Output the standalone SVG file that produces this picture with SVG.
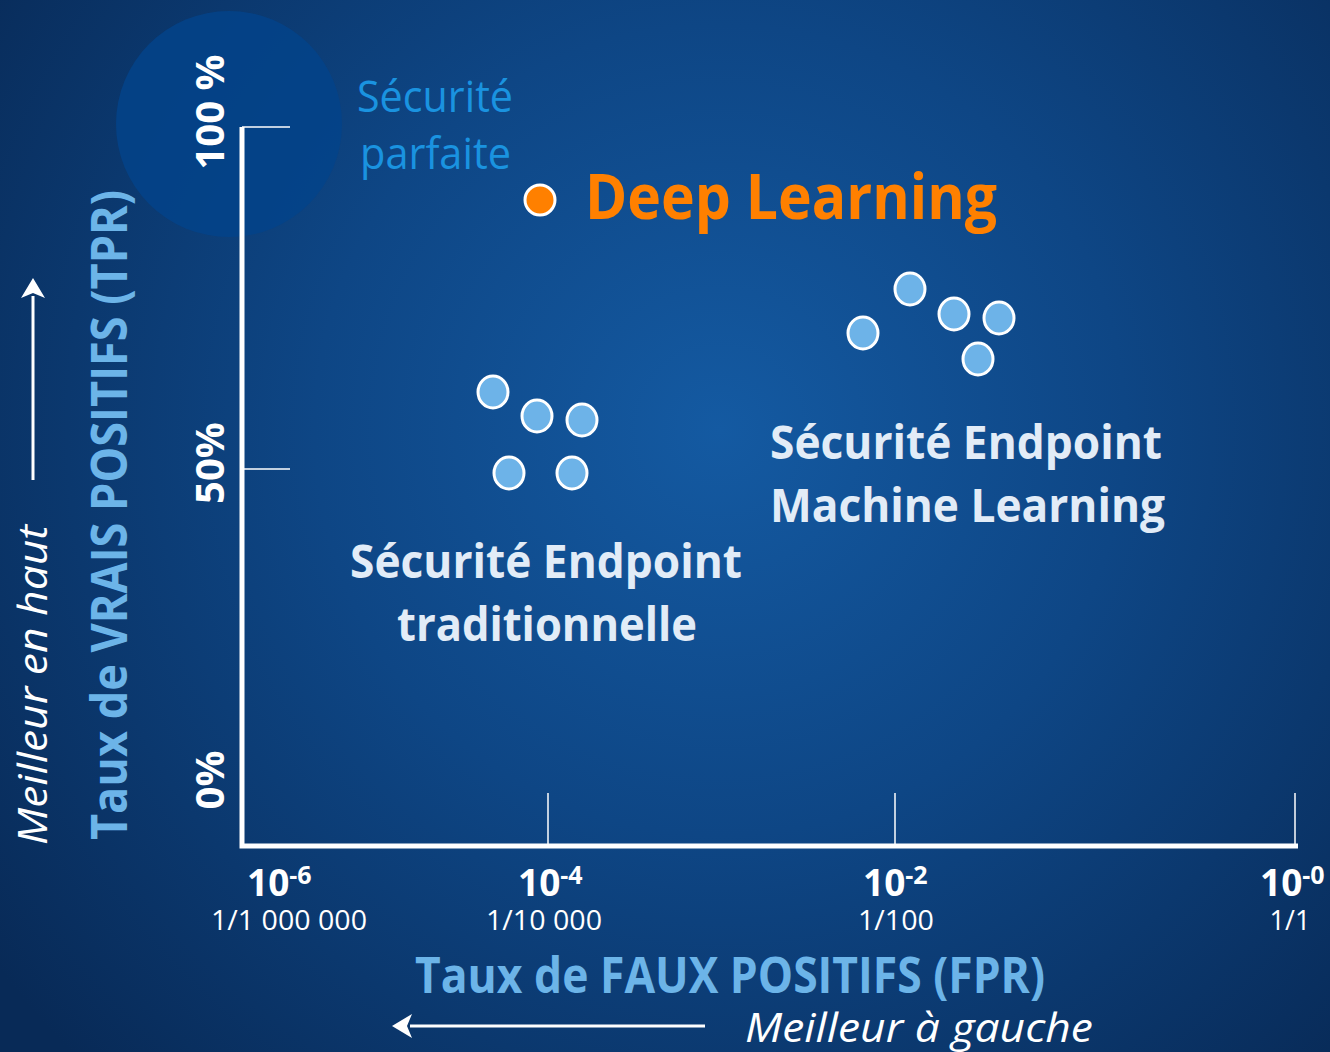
<svg xmlns="http://www.w3.org/2000/svg" width="1330" height="1052" viewBox="0 0 1330 1052">
  <defs>
    <radialGradient id="bg" cx="720" cy="430" r="900" gradientUnits="userSpaceOnUse">
      <stop offset="0" stop-color="#145aa2"/>
      <stop offset="0.45" stop-color="#0e4685"/>
      <stop offset="1" stop-color="#082a57"/>
    </radialGradient>
    <marker id="head" viewBox="0 0 20 24" refX="2" refY="12" markerWidth="20" markerHeight="24" markerUnits="userSpaceOnUse" orient="auto">
      <path d="M0,0 L20,12 L0,24 L5,12 Z" fill="#ffffff"/>
    </marker>
    <style>
      .pct { font-family: "Open Sans", "Liberation Sans", sans-serif; font-weight: bold; font-size: 40px; fill: #ffffff; }
      .axis-title { font-family: "Open Sans", "Liberation Sans", sans-serif; font-weight: bold; font-size: 50px; fill: #6cb4e8; }
      .hint { font-family: "Open Sans", "Liberation Sans", sans-serif; font-style: italic; font-size: 41px; fill: #ffffff; }
      .label { font-family: "Open Sans", "Liberation Sans", sans-serif; font-weight: bold; font-size: 46px; fill: #e2ecf7; }
      .exp { font-family: "Open Sans", "Liberation Sans", sans-serif; font-weight: bold; font-size: 37px; fill: #ffffff; }
      .exp tspan.sup { font-size: 25px; }
      .frac { font-family: "Open Sans", "Liberation Sans", sans-serif; font-size: 27px; fill: #ffffff; }
      .dot { fill: #6db3e8; stroke: #ffffff; stroke-width: 3; }
      .axis { stroke: #ffffff; fill: none; }
      .tick { stroke: #ffffff; stroke-width: 1.5; }
    </style>
  </defs>

  <rect width="1330" height="1052" fill="url(#bg)"/>

  <!-- perfect-security zone -->
  <g id="perfect-zone">
    <circle cx="229" cy="124" r="113" fill="#04438a" opacity="0.85"/>
    <text x="357" y="112" font-family="Open Sans, Liberation Sans, sans-serif" font-size="43" fill="#1a93e0" textLength="156" lengthAdjust="spacingAndGlyphs">Sécurité</text>
    <text x="360" y="169" font-family="Open Sans, Liberation Sans, sans-serif" font-size="43" fill="#1a93e0" textLength="151" lengthAdjust="spacingAndGlyphs">parfaite</text>
  </g>

  <!-- axes and ticks -->
  <g id="connectors">
    <path class="axis" d="M242,127 V846 H1298" stroke-width="5"/>
    <line class="tick" x1="242" y1="127" x2="290" y2="127"/>
    <line class="tick" x1="242" y1="469" x2="290" y2="469"/>
    <line class="tick" x1="548" y1="793" x2="548" y2="846"/>
    <line class="tick" x1="895" y1="793" x2="895" y2="846"/>
    <line class="tick" x1="1295" y1="793" x2="1295" y2="846"/>
    <line x1="33" y1="480" x2="33" y2="296" stroke="#ffffff" stroke-width="3" marker-end="url(#head)"/>
    <line x1="705" y1="1026" x2="410" y2="1026" stroke="#ffffff" stroke-width="3" marker-end="url(#head)"/>
  </g>

  <!-- Y axis labels -->
  <g id="y-axis">
    <text class="pct" transform="translate(224,112) rotate(-90)" text-anchor="middle">100 %</text>
    <text class="pct" transform="translate(224,463) rotate(-90)" text-anchor="middle">50%</text>
    <text class="pct" transform="translate(224,780) rotate(-90)" text-anchor="middle">0%</text>
    <text class="axis-title" transform="translate(127,515) rotate(-90)" text-anchor="middle" textLength="650" lengthAdjust="spacingAndGlyphs">Taux de VRAIS POSITIFS (TPR)</text>
    <text class="hint" transform="translate(47,685) rotate(-90)" text-anchor="middle" textLength="320" lengthAdjust="spacingAndGlyphs">Meilleur en haut</text>
  </g>

  <!-- X axis labels -->
  <g id="x-axis">
    <text class="exp" x="247" y="896">10<tspan class="sup" dy="-12">-6</tspan></text>
    <text class="frac" x="289" y="930" text-anchor="middle" textLength="156" lengthAdjust="spacingAndGlyphs">1/1 000 000</text>
    <text class="exp" x="518" y="896">10<tspan class="sup" dy="-12">-4</tspan></text>
    <text class="frac" x="544" y="930" text-anchor="middle" textLength="116" lengthAdjust="spacingAndGlyphs">1/10 000</text>
    <text class="exp" x="863" y="896">10<tspan class="sup" dy="-12">-2</tspan></text>
    <text class="frac" x="896" y="930" text-anchor="middle" textLength="76" lengthAdjust="spacingAndGlyphs">1/100</text>
    <text class="exp" x="1260" y="896">10<tspan class="sup" dy="-12">-0</tspan></text>
    <text class="frac" x="1290" y="930" text-anchor="middle">1/1</text>
    <text class="axis-title" x="415" y="993" textLength="630" lengthAdjust="spacingAndGlyphs">Taux de FAUX POSITIFS (FPR)</text>
    <text class="hint" x="745" y="1042" textLength="348" lengthAdjust="spacingAndGlyphs">Meilleur à gauche</text>
  </g>

  <!-- Deep Learning point -->
  <g id="deep-learning">
    <circle cx="540" cy="200" r="15" fill="#ff8000" stroke="#ffffff" stroke-width="3"/>
    <text x="585" y="219" font-family="Open Sans, Liberation Sans, sans-serif" font-weight="bold" font-size="62" fill="#ff8000" textLength="412" lengthAdjust="spacingAndGlyphs">Deep Learning</text>
  </g>

  <!-- traditional endpoint security cluster -->
  <g id="traditional">
    <ellipse class="dot" cx="493" cy="392" rx="15" ry="16"/>
    <ellipse class="dot" cx="537" cy="416" rx="15" ry="16"/>
    <ellipse class="dot" cx="582" cy="420" rx="15" ry="16"/>
    <ellipse class="dot" cx="509" cy="473" rx="15" ry="16"/>
    <ellipse class="dot" cx="572" cy="473" rx="15" ry="16"/>
    <text class="label" x="350" y="578" textLength="392" lengthAdjust="spacingAndGlyphs">Sécurité Endpoint</text>
    <text class="label" x="547" y="641" text-anchor="middle" textLength="300" lengthAdjust="spacingAndGlyphs">traditionnelle</text>
  </g>

  <!-- machine learning endpoint security cluster -->
  <g id="machine-learning">
    <ellipse class="dot" cx="910" cy="289" rx="15" ry="16"/>
    <ellipse class="dot" cx="954" cy="314" rx="15" ry="16"/>
    <ellipse class="dot" cx="999" cy="318" rx="15" ry="16"/>
    <ellipse class="dot" cx="863" cy="333" rx="15" ry="16"/>
    <ellipse class="dot" cx="978" cy="359" rx="15" ry="16"/>
    <text class="label" x="770" y="459" textLength="392" lengthAdjust="spacingAndGlyphs">Sécurité Endpoint</text>
    <text class="label" x="770" y="522" textLength="395" lengthAdjust="spacingAndGlyphs">Machine Learning</text>
  </g>
</svg>
